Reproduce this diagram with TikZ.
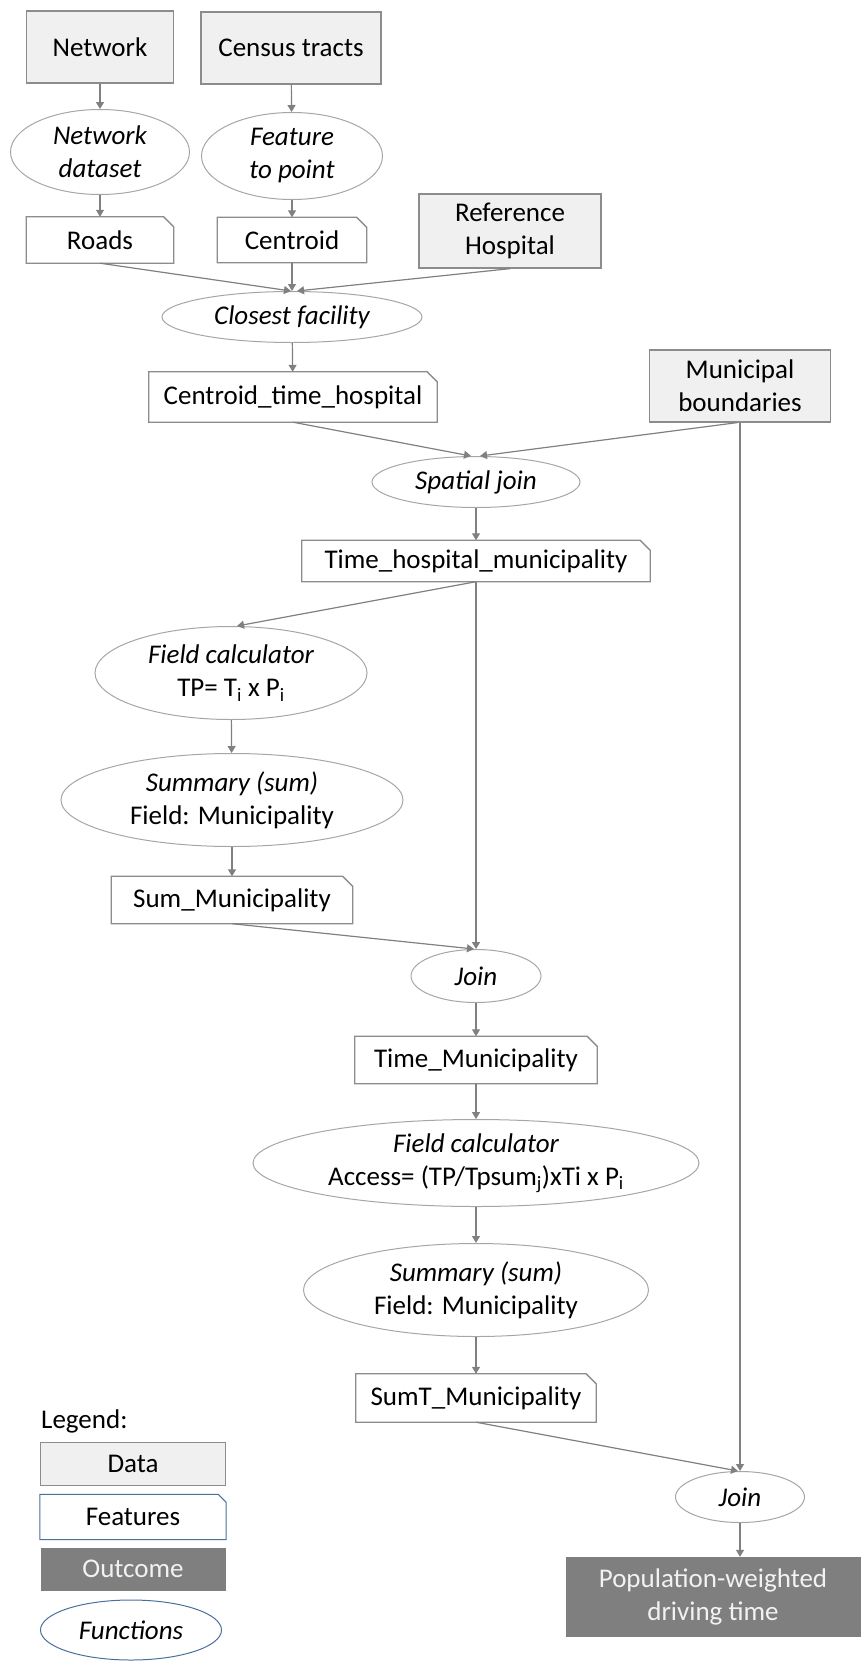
\documentclass[tikz,border=0pt]{standalone}
\usepackage{fontspec}
\setmainfont{Carlito}
\usetikzlibrary{shapes.geometric,arrows.meta}
\definecolor{datafill}{HTML}{F0F0F0}
\definecolor{boxline}{HTML}{8C8C8C}
\definecolor{conncol}{HTML}{808080}
\definecolor{ellline}{HTML}{A6A6A6}
\definecolor{outfill}{HTML}{7F7F7F}
\definecolor{outtext}{HTML}{F2F2F2}
\definecolor{legblue}{HTML}{4A6F9A}
\begin{document}
\begin{tikzpicture}[x=1pt,y=-1pt,
  every node/.style={font=\fontsize{27}{33}\selectfont, inner sep=0pt, align=center},
  databox/.style={rectangle, draw=boxline, fill=datafill, line width=1.3pt},
  featbox/.style={rectangle},
  funcell/.style={ellipse, draw=ellline, fill=white, line width=1pt, font=\fontsize{27}{33}\selectfont\itshape},
  outbox/.style={rectangle, fill=outfill, text=outtext},
  arrowline/.style={draw=conncol, line width=1.2pt, -{Triangle[width=8pt,length=7pt]}},
  plainline/.style={draw=conncol, line width=1.2pt},
]
\useasboundingbox (0,0) rectangle (862,1662);

% Data
\node[databox, minimum width=147pt, minimum height=72pt] (network) at (100,47) {Network};
\node[databox, minimum width=180pt, minimum height=72pt] (census) at (291,48) {Census tracts};
\node[databox, minimum width=182pt, minimum height=74pt] (refhosp) at (510,231) {Reference\\Hospital};
\node[databox, minimum width=181pt, minimum height=72pt] (munic) at (740,386) {Municipal\\boundaries};

% Functions
\node[funcell, minimum width=179pt, minimum height=85pt] (netds) at (100,152) {Network\\dataset};
\node[funcell, minimum width=181pt, minimum height=87pt] (ftp) at (292,156) {Feature\\to point};
\node[funcell, minimum width=260pt, minimum height=51pt] (closest) at (292,317) {Closest facility};
\node[funcell, minimum width=208pt, minimum height=51pt] (spjoin) at (476,482) {Spatial join};
\node[funcell, minimum width=272pt, minimum height=93pt] (fc1) at (231,673) {Field calculator\\\textup{TP= T\textsubscript{i} x P\textsubscript{i}}};
\node[funcell, minimum width=342pt, minimum height=93pt] (sum1) at (232,800) {Summary (sum)\\\textup{Field: Municipality}};
\node[funcell, minimum width=130pt, minimum height=53pt] (join1) at (476,976) {Join};
\node[funcell, minimum width=446pt, minimum height=87pt] (fc2) at (476,1163) {Field calculator\\\textup{Access= (TP/Tpsum\textsubscript{j})xTi x P\textsubscript{i}}};
\node[funcell, minimum width=345pt, minimum height=93pt] (sum2) at (476,1290) {Summary (sum)\\\textup{Field: Municipality}};
\node[funcell, minimum width=129pt, minimum height=51pt] (join2) at (740,1497) {Join};

% Features
\node[featbox, minimum width=147pt, minimum height=46pt] (roads) at (100,240) {Roads};
\node[featbox, minimum width=149pt, minimum height=45pt] (centroid) at (292,240) {Centroid};
\node[featbox, minimum width=288pt, minimum height=50pt] (cth) at (293,397) {Centroid\_time\_hospital};
\node[featbox, minimum width=348pt, minimum height=41pt] (thm) at (476,561) {Time\_hospital\_municipality};
\node[featbox, minimum width=241pt, minimum height=47pt] (summun) at (232,900) {Sum\_Municipality};
\node[featbox, minimum width=242pt, minimum height=47pt] (timemun) at (476,1060) {Time\_Municipality};
\node[featbox, minimum width=240pt, minimum height=48pt] (sumtmun) at (476,1398) {SumT\_Municipality};
\foreach \n in {roads,centroid,cth,thm,summun,timemun,sumtmun}{
  \draw[draw=boxline, line width=1.3pt] (\n.south west) -- (\n.north west) -- ([xshift=-10pt]\n.north east) -- ([yshift=-10pt]\n.north east) -- (\n.south east) -- cycle;
}

% Outcome
\node[outbox, minimum width=295pt, minimum height=80pt] (pop) at (713,1597) {Population-weighted\\driving time};

% Connectors
\draw[arrowline] (network) -- (netds);
\draw[arrowline] (netds) -- (roads);
\draw[arrowline] (census) -- (ftp);
\draw[arrowline] (ftp) -- (centroid);
\draw[arrowline] (roads.south) -- ([xshift=-1pt]closest.north);
\draw[arrowline] (centroid.south) -- (closest.north);
\draw[arrowline] (refhosp.south) -- ([xshift=5pt]closest.north);
\draw[arrowline] (closest) -- (cth);
\draw[arrowline] (cth.south) -- ([xshift=-5pt]spjoin.north);
\draw[arrowline] ([xshift=-3pt]munic.south) -- ([xshift=4pt]spjoin.north);
\draw[arrowline] (spjoin) -- (thm);
\draw[arrowline] (thm.south) -- ([xshift=6pt]fc1.north);
\draw[arrowline] (thm.south) -- (join1.north);
\draw[arrowline] (fc1) -- (sum1);
\draw[arrowline] (sum1) -- (summun);
\draw[arrowline] (summun.south) -- ([xshift=-2pt]join1.north);
\draw[arrowline] (join1) -- (timemun);
\draw[arrowline] (timemun) -- (fc2);
\draw[arrowline] (fc2) -- (sum2);
\draw[arrowline] (sum2) -- (sumtmun);
\draw[arrowline] (sumtmun.south) -- ([xshift=-2pt]join2.north);
\draw[arrowline] (munic.south) -- (join2.north);
\draw[arrowline] (join2.south) -- (join2.south |- pop.north);

% Legend
\node[anchor=west] (legtitle) at (41,1421) {Legend:};
\node[databox, minimum width=185pt, minimum height=43pt] (legdata) at (133,1464) {Data};
\node[rectangle, minimum width=186pt, minimum height=45pt] (legfeat) at (133,1517) {Features};
\draw[draw=legblue, line width=1pt] (legfeat.south west) -- (legfeat.north west) -- ([xshift=-8pt]legfeat.north east) -- ([yshift=-8pt]legfeat.north east) -- (legfeat.south east) -- cycle;
\node[outbox, minimum width=185pt, minimum height=43pt] (legout) at (133,1569) {Outcome};
\node[ellipse, draw=legblue, line width=1pt, minimum width=181pt, minimum height=60pt, font=\fontsize{27}{33}\selectfont\itshape] (legfun) at (131,1630) {Functions};
\end{tikzpicture}
\end{document}
